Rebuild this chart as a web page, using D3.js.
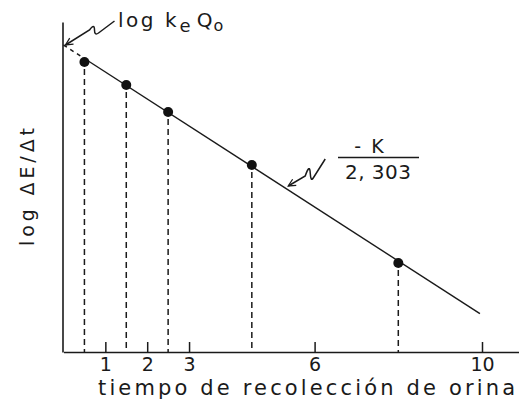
<!DOCTYPE html>
<html>
<head>
<meta charset="utf-8">
<script src="https://cdn.jsdelivr.net/npm/d3@7"></script>
<style>
  html, body { margin: 0; padding: 0; background: #fff; }
  svg { display: block; }
  text { font-family: "DejaVu Sans", sans-serif; fill: #1a1a1a; }
</style>
</head>
<body>
<svg id="chart" width="519" height="405"></svg>
<script>
// Urine collection: midpoints of each collection interval (h)
const times = [0.5, 1.5, 2.5, 4.5, 8];
// log of excretion rate, ΔE/Δt, at each midpoint (arbitrary units)
const logRates = [2.90, 2.67, 2.40, 1.87, 0.89];
// Fitted line: intercept log(ke·Q0) and slope -K/2,303
const intercept = 3.07;
const slope = -0.27;
const fitEnd = 9.95;
// Time ticks shown on the axis
const tickValues = [1, 2, 3, 6, 10];

const svg = d3.select("#chart");
const ink = "#1a1a1a";

const x = d3.scaleLinear().domain([0, 11]).range([63.5, 63.5 + 41.85 * 11]);
const y = d3.scaleLinear().domain([0, 3.3]).range([352, 22]);
const fit = t => intercept + slope * t;

// Arrowhead for annotation pointers
svg.append("defs").append("marker")
  .attr("id", "arrow")
  .attr("viewBox", "0 0 10 10")
  .attr("refX", 9).attr("refY", 5)
  .attr("markerWidth", 9).attr("markerHeight", 9)
  .attr("markerUnits", "userSpaceOnUse")
  .attr("orient", "auto")
  .append("path")
  .attr("d", "M1,1 L9,5 L1,9")
  .attr("fill", "none").attr("stroke", ink).attr("stroke-width", 1.4);

// Axes
const xAxis = d3.axisBottom(x)
  .tickValues(tickValues)
  .tickFormat(d3.format("d"))
  .tickSizeInner(-10)
  .tickSizeOuter(0)
  .tickPadding(6);

const gx = svg.append("g").attr("transform", `translate(0,${y(0)})`).call(xAxis);
gx.select(".domain").attr("stroke", ink).attr("stroke-width", 1.6);
gx.selectAll(".tick line").attr("stroke", ink).attr("stroke-width", 1.5);
gx.selectAll(".tick text")
  .attr("font-size", 19)
  .attr("font-family", "DejaVu Sans, sans-serif")
  .attr("fill", ink);

const gy = svg.append("g").attr("transform", `translate(${x(0) - 1},0)`)
  .call(d3.axisLeft(y).ticks(0).tickSizeOuter(0));
gy.select(".domain").attr("stroke", ink).attr("stroke-width", 1.6);

// Drop lines from each point to the time axis
svg.append("g").selectAll("line").data(times).join("line")
  .attr("x1", d => x(d)).attr("x2", d => x(d))
  .attr("y1", (d, i) => y(logRates[i]) + 7)
  .attr("y2", y(0))
  .attr("stroke", ink).attr("stroke-width", 1.5)
  .attr("stroke-dasharray", "6,4");

// Extrapolation back to t = 0 (dashed) and fitted line (solid)
svg.append("line")
  .attr("x1", x(0)).attr("y1", y(fit(0)))
  .attr("x2", x(times[0])).attr("y2", y(fit(times[0])))
  .attr("stroke", ink).attr("stroke-width", 1.5)
  .attr("stroke-dasharray", "4,4");

svg.append("line")
  .attr("x1", x(times[0])).attr("y1", y(fit(times[0])))
  .attr("x2", x(fitEnd)).attr("y2", y(fit(fitEnd)))
  .attr("stroke", ink).attr("stroke-width", 1.4);

// Data points
svg.append("g").selectAll("circle").data(times).join("circle")
  .attr("cx", d => x(d))
  .attr("cy", (d, i) => y(logRates[i]))
  .attr("r", 5)
  .attr("fill", "#111");

// Axis titles
svg.append("text")
  .attr("x", 98).attr("y", 395)
  .attr("font-size", 21)
  .attr("textLength", 417).attr("lengthAdjust", "spacing")
  .text("tiempo de recolección de orina");

svg.append("text")
  .attr("transform", "translate(34,246) rotate(-90)")
  .attr("font-size", 19)
  .attr("textLength", 118).attr("lengthAdjust", "spacing")
  .text("log ΔE/Δt");

// Intercept annotation: log ke Q0
const tip1 = [x(0) + 2, y(fit(0))];
svg.append("path")
  .attr("d", `M${tip1[0] + 49},${tip1[1] - 24} L${tip1[0] + 33},${tip1[1] - 12}
              Q${tip1[0] + 29},${tip1[1] - 9} ${tip1[0] + 29},${tip1[1] - 15}
              Q${tip1[0] + 29},${tip1[1] - 22} ${tip1[0] + 24},${tip1[1] - 15}
              L${tip1[0]},${tip1[1]}`)
  .attr("fill", "none").attr("stroke", ink).attr("stroke-width", 1.5)
  .attr("marker-end", "url(#arrow)");

const lab1 = svg.append("text").attr("x", 118).attr("y", 27).attr("font-size", 20);
lab1.append("tspan").text("log").attr("letter-spacing", 2.5);
lab1.append("tspan").attr("dx", 9).text("k");
lab1.append("tspan").attr("dx", 3).attr("dy", 5).attr("font-size", 18).text("e");
lab1.append("tspan").attr("dx", 6).attr("dy", -5).text("Q");
lab1.append("tspan").attr("dx", 1).attr("dy", 4).attr("font-size", 16).text("o");

// Slope annotation: -K / 2,303
const tTip = 5.37;
const tip2 = [x(tTip), y(fit(tTip)) - 4];
svg.append("path")
  .attr("d", `M${tip2[0] + 37},${tip2[1] - 27} L${tip2[0] + 25},${tip2[1] - 8}
              Q${tip2[0] + 22.5},${tip2[1] - 4} ${tip2[0] + 22},${tip2[1] - 13}
              Q${tip2[0] + 21.5},${tip2[1] - 23} ${tip2[0] + 17},${tip2[1] - 10}
              L${tip2[0]},${tip2[1]}`)
  .attr("fill", "none").attr("stroke", ink).attr("stroke-width", 1.5)
  .attr("marker-end", "url(#arrow)");

svg.append("line")
  .attr("x1", 338).attr("x2", 419).attr("y1", 157.5).attr("y2", 157.5)
  .attr("stroke", ink).attr("stroke-width", 1.3);
svg.append("text").attr("x", 370).attr("y", 153).attr("font-size", 19)
  .attr("text-anchor", "middle").attr("letter-spacing", 2).text("- K");
svg.append("text").attr("x", 345).attr("y", 179).attr("font-size", 20)
  .attr("textLength", 66).attr("lengthAdjust", "spacing").text("2, 303");
</script>
</body>
</html>
